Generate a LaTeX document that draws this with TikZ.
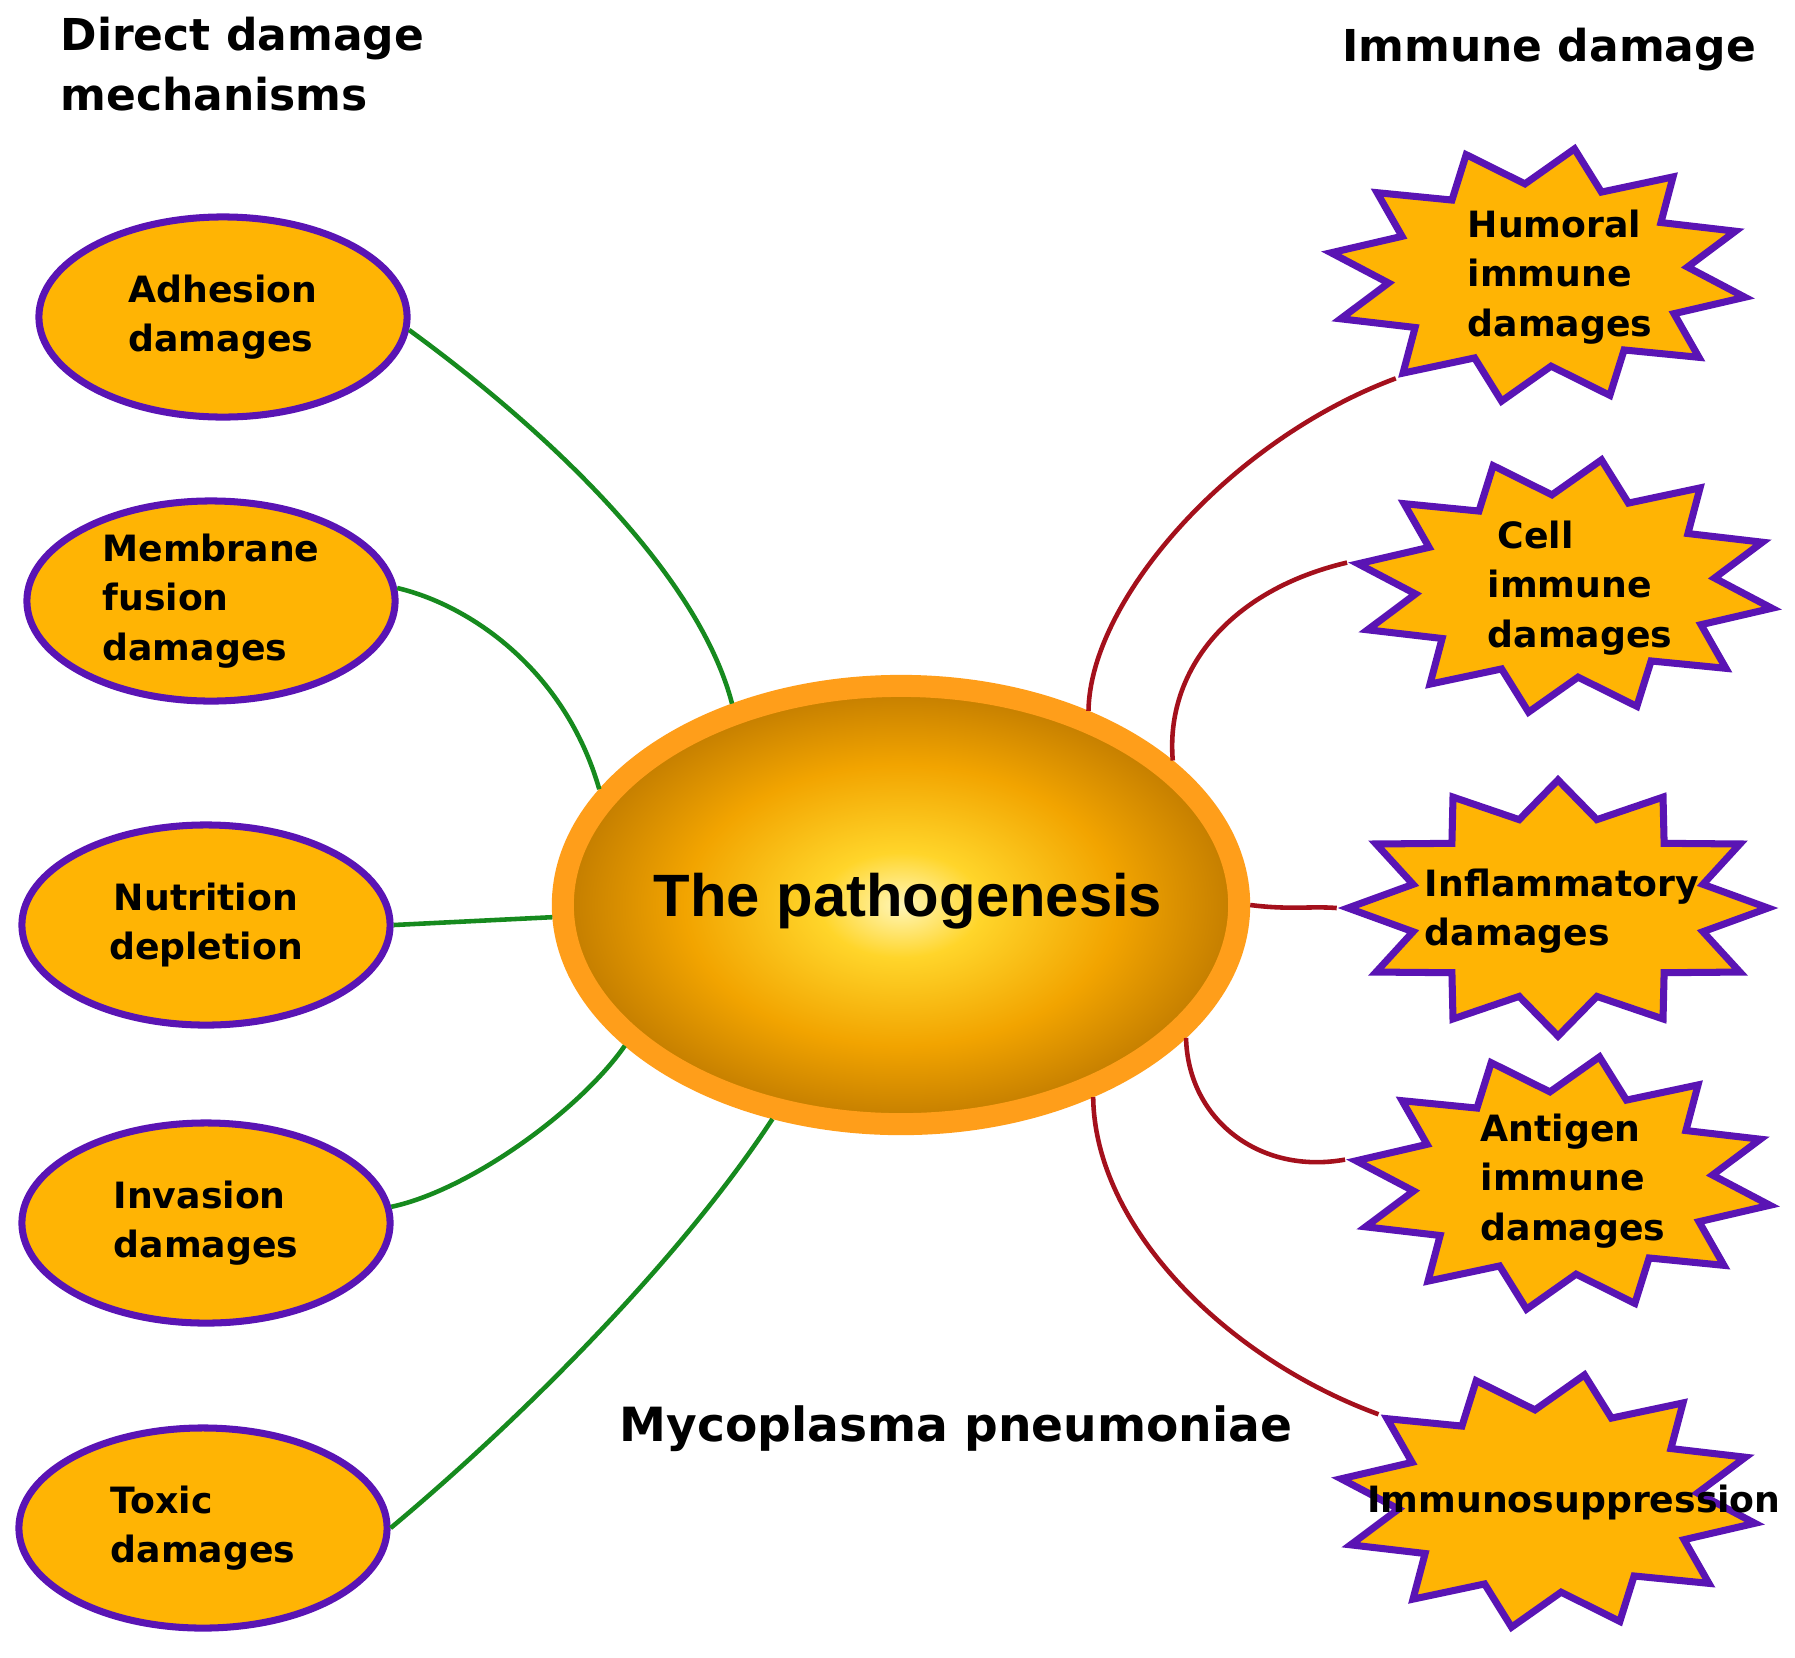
\documentclass[tikz,border=0pt]{standalone}
\usepackage{fontspec}
\setmainfont{DejaVu Sans}
\newfontfamily\arialfont{Liberation Sans}
\usepackage{xcolor}
\definecolor{LeafAmber}{HTML}{FFB404}
\definecolor{LeafPurple}{HTML}{5A14B4}
\definecolor{DirectGreen}{HTML}{168A1E}
\definecolor{ImmuneRed}{HTML}{A4101C}
\definecolor{RingOrange}{HTML}{FF9E1A}
\definecolor{CoreA}{HTML}{FFF6B8}
\definecolor{CoreB}{HTML}{FFD52A}
\definecolor{CoreC}{HTML}{F2A400}
\definecolor{CoreD}{HTML}{C27C00}
\usepackage{tikz}
\usetikzlibrary{positioning,shapes.geometric,calc}
\pgfdeclareradialshading{corefill}{\pgfpoint{0bp}{0bp}}{color(0bp)=(CoreA); color(6bp)=(CoreB); color(16bp)=(CoreC); color(25bp)=(CoreD); color(50bp)=(CoreD)}
\newcommand{\lbl}{\fontsize{10.3}{14}\selectfont\bfseries}
\newcommand{\hdl}{\fontsize{12.5}{17}\selectfont\bfseries}

\begin{document}
\begin{tikzpicture}[x=0.01cm,y=-0.01cm, leaf/.style={ellipse,draw=LeafPurple,line width=2pt,fill=LeafAmber,minimum width=3.68cm,minimum height=2cm,inner sep=0pt,align=left,font=\lbl}, burst/.style={star,star points=12,star point ratio=1.4,shape border rotate=-10,draw=LeafPurple,line width=2pt,fill=LeafAmber,minimum size=2.56cm,inner sep=0pt,xscale=1.64}, tag/.style={align=left,font=\lbl,inner sep=0pt}, head/.style={align=left,font=\hdl,inner sep=0pt}, core/.style={ellipse,draw=RingOrange,line width=0.22cm,shade,shading=corefill,minimum width=6.76cm,minimum height=4.38cm,inner sep=0pt}, direct/.style={draw=DirectGreen,line width=1.3pt}, immune/.style={draw=ImmuneRed,line width=1.3pt}]
\fill[white] (0,0) rectangle (1795,1657);
% headings
\node[head,anchor=west] (dirhead) at (60,64) {Direct damage\\mechanisms};
\node[head] (immhead) at (1549,50) {Immune damage};
\node[head,font=\fontsize{13.4}{16}\selectfont\bfseries] (mycohead) at (956,1429) {Mycoplasma pneumoniae};
% centre
\node[core] (core) at (901,905) {};
\node[inner sep=0pt,font=\arialfont\fontsize{17}{20}\selectfont\bfseries] (coretext) at (908,901) {The pathogenesis};
% direct damage mechanisms
\node[leaf] (adh) at (223,317) {Adhesion\\damages};
\node[leaf] (mem) at (211,601) {Membrane\\fusion\\damages};
\node[leaf,align=center] (nut) at (206,925) {Nutrition\\depletion};
\node[leaf] (inv) at (206,1223) {Invasion\\damages};
\node[leaf] (tox) at (203,1528) {Toxic\\damages};
% immune damage
\node[burst] (hum) at (1538,275) {};
\node[burst] (cell) at (1565,586) {};
\node[burst,shape border rotate=0] (infl) at (1558,908) {};
\node[burst] (anti) at (1563,1183) {};
\node[burst] (immu) at (1548,1501) {};
\node[tag] (humt) at (1560,277) {Humoral\\immune\\damages};
\node[tag] (cellt) at (1580,588) {\hspace*{1mm}Cell\\immune\\damages};
\node[tag] (inflt) at (1562,911) {Inflammatory\\damages};
\node[tag] (antit) at (1573,1181) {Antigen\\immune\\damages};
\node[tag] (immut) at (1574,1502) {Immunosuppression};
% connectors
\draw[direct] (adh.-4) .. controls (560,440) and (700,580) .. (core.130);
\draw[direct] (mem.4) .. controls (470,605) and (565,670) .. (core.159);
\draw[direct] (nut.east) -- (core.182);
\draw[direct] (inv.5) .. controls (470,1190) and (580,1110) .. (core.207);
\draw[direct] (tox.east) .. controls (520,1420) and (680,1260) .. (core.239);
\draw[immune] (core.46) .. controls (1090,600) and (1230,440) .. (hum.outer point 6);
\draw[immune] (core.28) .. controls (1165,670) and (1230,590) .. (cell.outer point 4);
\draw[immune] (core.0) .. controls (1290,910) and (1310,906) .. (infl.outer point 4);
\draw[immune] (core.-25) .. controls (1188,1120) and (1260,1175) .. (anti.outer point 4);
\draw[immune] (core.-45) .. controls (1095,1230) and (1230,1360) .. (immu.outer point 3);
\end{tikzpicture}
\end{document}
